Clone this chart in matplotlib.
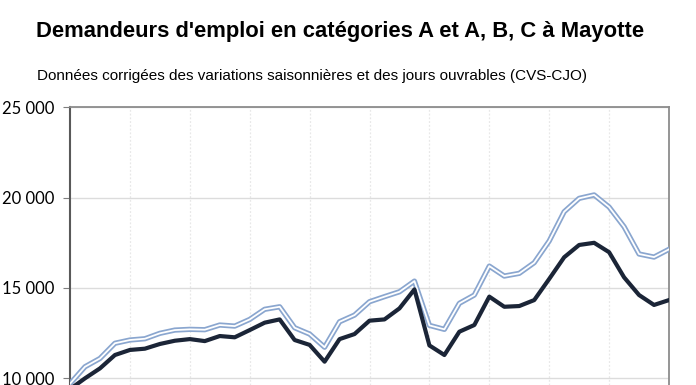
import matplotlib
matplotlib.use("Agg")
import matplotlib.pyplot as plt
from matplotlib.ticker import FuncFormatter

# quarterly points, 10 years shown (x-axis labels are cut off in the reference)
quarters = list(range(41))

# category A
cat_a = [9400, 10000, 10550, 11290, 11570, 11640, 11900, 12080, 12170, 12060,
         12340, 12270, 12670, 13080, 13260, 12120, 11850, 10920, 12170, 12450,
         13190, 13260, 13870, 14920, 11820, 11290, 12580, 12950, 14520, 13960,
         14000, 14330, 15500, 16700, 17380, 17500, 16980, 15590, 14610, 14060,
         14330]

# categories A, B, C
cat_abc = [9700, 10640, 11100, 11940, 12120, 12190, 12490, 12670, 12710, 12690,
           12950, 12890, 13260, 13820, 13960, 12800, 12450, 11720, 13130, 13500,
           14240, 14520, 14790, 15380, 12930, 12710, 14150, 14610, 16210, 15660,
           15810, 16400, 17600, 19220, 19960, 20150, 19480, 18390, 16880, 16710,
           17140]

yticks = [10000, 15000, 20000, 25000]

fig = plt.figure(figsize=(6.96, 3.85), dpi=100)
ax = fig.add_axes([0.1006, 0.0, 0.8606, 0.7213])

# double line for A, B, C
ax.plot(quarters, cat_abc, color='#8aa6cf', lw=3.8, zorder=3)
ax.plot(quarters, cat_abc, color='white', lw=1.3, zorder=4)
ax.plot(quarters, cat_a, color='#1b2537', lw=3.0, zorder=5)

ax.set_xlim(0, 40)
ax.set_ylim(9630, 25000)

ax.set_yticks(yticks)
ax.yaxis.set_major_formatter(FuncFormatter(lambda v, p: f"{int(v):,}".replace(",", " ")))
ax.tick_params(axis='y', length=5, color='#7f7f7f', labelsize=12, pad=6)
for lbl in ax.get_yticklabels():
    lbl.set_fontfamily('Lato')

ax.set_xticks(range(4, 40, 4))
ax.tick_params(axis='x', length=0, labelbottom=False)

ax.grid(axis='y', color='#dcdcdc', lw=1.0, zorder=1)
ax.grid(axis='x', color='#e8e8e8', lw=0.9, ls=(0, (1.5, 1.5)), zorder=1)

ax.spines['bottom'].set_visible(False)
ax.spines['left'].set_color('#595959')
ax.spines['left'].set_linewidth(1.5)
for s in ['top', 'right']:
    ax.spines[s].set_color('#8c8c8c')
    ax.spines[s].set_linewidth(1.3)

fig.text(0.489, 0.917, "Demandeurs d'emploi en catégories A et A, B, C à Mayotte",
         ha='center', va='center', fontsize=15.8, fontweight='bold',
         family='Liberation Sans')
fig.text(0.053, 0.802, "Données corrigées des variations saisonnières et des jours ouvrables (CVS-CJO)",
         ha='left', va='center', fontsize=11, family='Liberation Sans')

fig.savefig('out.png', dpi=100)
